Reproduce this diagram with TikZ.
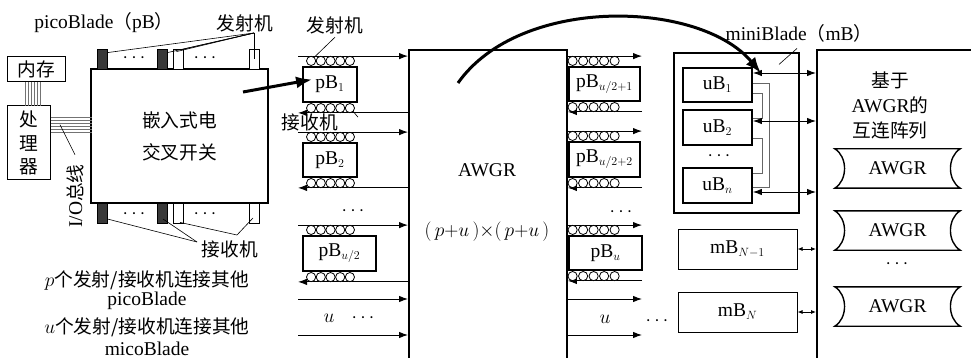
\documentclass[tikz,border=0pt]{standalone}
\usepackage{fix-cm}
\usepackage{fontspec}
\setmainfont{Liberation Serif}
\newfontfamily\cjk{Noto Sans CJK SC}[Scale=0.96]
\DeclareMathSizes{19.5}{19.5}{12}{9}
\usetikzlibrary{arrows.meta}

\begin{document}
\begin{tikzpicture}[x=1pt, y=-1pt,
  font=\fontsize{19.5}{22}\selectfont,
  zh/.style={font=\fontsize{19.5}{#1}\selectfont\cjk}, zh/.default=22,
  box/.style={draw, line width=1.8pt, fill=white, inner sep=0pt},
  thinbox/.style={draw, line width=1pt, fill=white, inner sep=0pt},
  trx/.style={draw, line width=0.8pt, minimum width=10pt, minimum height=20pt, inner sep=0pt},
  txdark/.style={trx, fill=black!78},
  txlight/.style={trx, fill=white},
  sig/.style={line width=0.9pt, -{Latex[length=9pt,width=6.5pt]}},
  dsig/.style={line width=0.9pt, {Latex[length=9pt,width=6.5pt]}-{Latex[length=9pt,width=6.5pt]}},
  ssig/.style={line width=0.8pt, {Latex[length=5pt,width=4pt]}-{Latex[length=5pt,width=4pt]}},
  coil/.style={draw, line width=0.8pt, fill=white},
  lead/.style={line width=0.6pt},
  big/.style={line width=3pt, -{Latex[length=16pt,width=12pt]}},
  bus/.style={draw=black!55, line width=0.9pt},
  ubus/.style={draw=black!60, line width=0.8pt},
  scroll/.style={draw, line width=1.4pt},
]
\useasboundingbox (0,0) rectangle (971,358);

% ---- host board: memory, cpu, electrical crossbar ------------------------
\node[thinbox, zh, minimum width=58pt, minimum height=25pt] (mem) at (36,69.5) {内存};
\node[thinbox, zh=23.5, align=center, minimum width=43pt, minimum height=74pt] (cpu) at (28.5,143) {处\\理\\器};
\node[box, zh=32, align=center, minimum width=177pt, minimum height=134pt] (sw) at (179.5,136) {嵌入式电\\交叉开关};

\foreach \d in {-7.5,-4.5,...,7.5}
  \draw[bus] ([shift={(\d-3.5,0)}]mem.south) -- ++(0,24);
\foreach \d in {-26,-23,...,-11}
  \draw[bus] ([shift={(0,\d)}]cpu.east) -- ++(41,0);

\node[rotate=90] (io) at (75,196) {I/O{\cjk 总线}};
\draw[lead] (io.east) ++(0,-6) -- ++(-15,-30);

% transceivers on the crossbar
\node[txdark]  (tx1) at (102,59) {};
\node[txdark]  (tx2) at (162,59) {};
\node[txlight] (tx3) at (178.5,59) {};
\node[txlight] (tx4) at (254,59) {};
\node[txdark]  (rx1) at (102,213) {};
\node[txdark]  (rx2) at (162,213) {};
\node[txlight] (rx3) at (178.5,213) {};
\node[txlight] (rx4) at (254,213) {};
\node (txdots1) at (134,58) {$\cdots$};
\node (txdots2) at (205,58) {$\cdots$};
\node (rxdots1) at (134,214) {$\cdots$};
\node (rxdots2) at (205,214) {$\cdots$};

\node (pbl) at (104,23) {picoBlade{\cjk （}pB{\cjk ）}};
\node (txl) at (245,23) {\cjk 发射机};
\coordinate (txj) at (254,33);
\draw[lead] (txj) -- ([shift={(0,4)}]tx1.north east);
\draw[lead] (txj) -- ([shift={(0,4)}]tx2.north east);
\draw[lead] (txj) -- ([shift={(-2,3)}]tx3.north);
\draw[lead] (txj) -- ([shift={(3,1)}]tx3.north);
\draw[lead] (txj) -- (tx4.center);

\node (rxl) at (230,249) {\cjk 接收机};
\coordinate (rxj1) at (197,242);
\coordinate (rxj2) at (237,235);
\draw[lead] (rxj1) -- ([shift={(0,6)}]rx1.east);
\draw[lead] (rxj1) -- ([shift={(1,6)}]rx2.center);
\draw[lead] (rxj2) -- ([shift={(1.5,-1)}]rx3.south);
\draw[lead] (rxj2) -- ([shift={(-1,5)}]rx4.center);

\node (pnote) at (147,280) {$p${\cjk 个发射/接收机连接其他}};
\node (pname) at (147,301) {picoBlade};
\node (unote) at (147,327) {$u${\cjk 个发射/接收机连接其他}};
\node[inner sep=0pt] (uname) at (147,349) {micoBlade};

% ---- AWGR and the picoBlades around it -----------------------------------
\node[box, anchor=north west, minimum width=158pt, minimum height=330pt] (awgr) at (408,49) {};
\node (awl) at (487,170) {AWGR};
\node (awn) at (487,232) {$(\,p{+}u\,){\times}(\,p{+}u\,)$};

\coordinate (lin) at (298,0);
\coordinate (rout) at (642,0);

\node[box, minimum width=54pt, minimum height=35pt] (pba) at (330,84.5) {pB$_1$};
\node[box, minimum width=54pt, minimum height=34pt] (pbb) at (330,160) {pB$_2$};
\node[box, minimum width=73pt, minimum height=35pt] (pbc) at (339.5,253.5) {pB$_{u/2}$};
\node[box, minimum width=71pt, minimum height=34pt] (pbd) at (604.5,84) {pB$_{u/2+1}$};
\node[box, minimum width=71pt, minimum height=35pt] (pbe) at (604.5,159.5) {pB$_{u/2+2}$};
\node[box, minimum width=73pt, minimum height=34pt] (pbf) at (605.5,253) {pB$_u$};

\foreach \b/\off/\gap in {pba/9/9.7, pbb/9/9.7, pbc/9/9.7} {
  \path (\b.north) ++(0,-10) coordinate (\b-t) (\b.south) ++(0,10) coordinate (\b-b);
  \draw[sig] (\b-t -| lin) -- (\b-t -| awgr.west);
  \draw[sig] (\b-b -| awgr.west) -- (\b-b -| lin);
  \foreach \k in {0,...,4} {
    \draw[coil] ([shift={(\off+\gap*\k,-5.2)}]\b.north west) coordinate (\b-t\k) circle[radius=4.6pt];
    \draw[coil] ([shift={(\off+\gap*\k,5.2)}]\b.south west) coordinate (\b-b\k) circle[radius=4.6pt];
  }
}
\foreach \b/\off/\gap in {pbd/4.5/10.5, pbe/4.5/10.5, pbf/4.5/10.5} {
  \path (\b.north) ++(0,-10) coordinate (\b-t) (\b.south) ++(0,10) coordinate (\b-b);
  \draw[sig] (\b-t -| awgr.east) -- (\b-t -| rout);
  \draw[sig] (\b-b -| rout) -- (\b-b -| awgr.east);
  \foreach \k in {0,...,4} {
    \draw[coil] ([shift={(\off+\gap*\k,-5.2)}]\b.north west) coordinate (\b-t\k) circle[radius=4.6pt];
    \draw[coil] ([shift={(\off+\gap*\k,5.2)}]\b.south west) coordinate (\b-b\k) circle[radius=4.6pt];
  }
}

\coordinate (ua) at (298,299);
\coordinate (ub) at (298,335);
\draw[sig] (ua) -- (ua -| awgr.west);
\draw[sig] (ub) -- (ub -| awgr.west);
\draw[sig] (ua -| awgr.east) -- (ua -| rout);
\draw[sig] (ub -| awgr.east) -- (ub -| rout);
\node (ul) at (329,318) {$u$};
\node (uldots) at (363,318) {$\cdots$};
\node (ur) at (605,319) {$u$};
\node (urdots) at (657,321) {$\cdots$};
\node (ldots) at (353,211) {$\cdots$};
\node (rdots) at (621,212) {$\cdots$};

\node (pbtx) at (335,25) {\cjk 发射机};
\draw[lead] (pbtx.south) -- ([shift={(3,-3.5)}]pba-t0);
\node (pbrx) at (310,122) {\cjk 接收机};
\draw[lead] ([shift={(3,3)}]pba-b4) -- ++(5,6);

\coordinate (swout) at (243,92);
\draw[big] (swout) -- ([shift={(10,-5)}]pba.west);

% ---- miniBlade ------------------------------------------------------------
\node[box, minimum width=125pt, minimum height=160pt] (mb) at (736.5,133) {};
\node[box, minimum width=69pt, minimum height=34pt] (uba) at (717.5,85) {uB$_1$};
\node[box, minimum width=69pt, minimum height=35pt] (ubb) at (717.5,127.5) {uB$_2$};
\node[box, minimum width=69pt, minimum height=35pt] (ubn) at (717.5,185.5) {uB$_n$};
\node (ubdots) at (719,156) {$\cdots$};
\node (mbl) at (799,33) {miniBlade{\cjk （}mB{\cjk ）}};
\draw[lead] ([shift={(-2,3)}]mbl.south) -- ++(-18,16);

\draw[ubus] ([shift={(0,-2)}]uba.east) -- ++(16,0) |- ([shift={(0,1.5)}]ubn.east);
\draw[ubus] ([shift={(0,8)}]uba.east) -- ++(9,0) |- ([shift={(0,-9.5)}]ubb.east);
\draw[ubus] ([shift={(0,10.5)}]ubb.east) -- ++(9,0) |- ([shift={(0,-12.5)}]ubn.east);

\node[thinbox, minimum width=119pt, minimum height=40pt] (mbx) at (737.5,249) {mB$_{N-1}$};
\node[thinbox, minimum width=119pt, minimum height=40pt] (mby) at (737.5,312) {mB$_N$};

% ---- AWGR-based interconnect array ----------------------------------------
\node[box, anchor=north west, minimum width=200pt, minimum height=330pt] (arr) at (816,49) {};
\node[align=center, font=\fontsize{19.5}{25}\selectfont] (arrl) at (890,105) {{\cjk 基于}\\AWGR{\cjk 的}\\{\cjk 互连阵列}};
\foreach \n/\y in {wga/168.5, wgb/230.5, wgc/306.5} {
  \node[minimum width=125pt, minimum height=39pt, inner sep=0pt] (\n) at (897.5,\y) {AWGR};
  \draw[scroll] (\n.north west) -- (\n.north east)
    .. controls ([shift={(-13,8)}]\n.north east) and ([shift={(-13,-8)}]\n.south east) .. (\n.south east)
    -- (\n.south west)
    .. controls ([shift={(13,-8)}]\n.south west) and ([shift={(13,8)}]\n.north west) .. (\n.north west) -- cycle;
}
\node (wgdots) at (897,264) {$\cdots$};

\path ([shift={(0,-12)}]uba.east) coordinate (up1)
      ([shift={(0,-6.5)}]ubb.east) coordinate (up2)
      ([shift={(0,6.5)}]ubn.east) coordinate (upn);
\draw[dsig] (up1) -- (up1 -| arr.west);
\draw[dsig] (up2) -- (up2 -| arr.west);
\draw[dsig] (upn) -- (upn -| arr.west);
\draw[ssig] (mbx.east) -- (mbx.east -| arr.west);
\draw[ssig] (mby.east) -- (mby.east -| arr.west);

\coordinate (awsrc) at (458,83);
\draw[big] (awsrc) .. controls (520,-5) and (700,0) .. ([shift={(8,6)}]uba.north east);

\end{tikzpicture}
\end{document}
